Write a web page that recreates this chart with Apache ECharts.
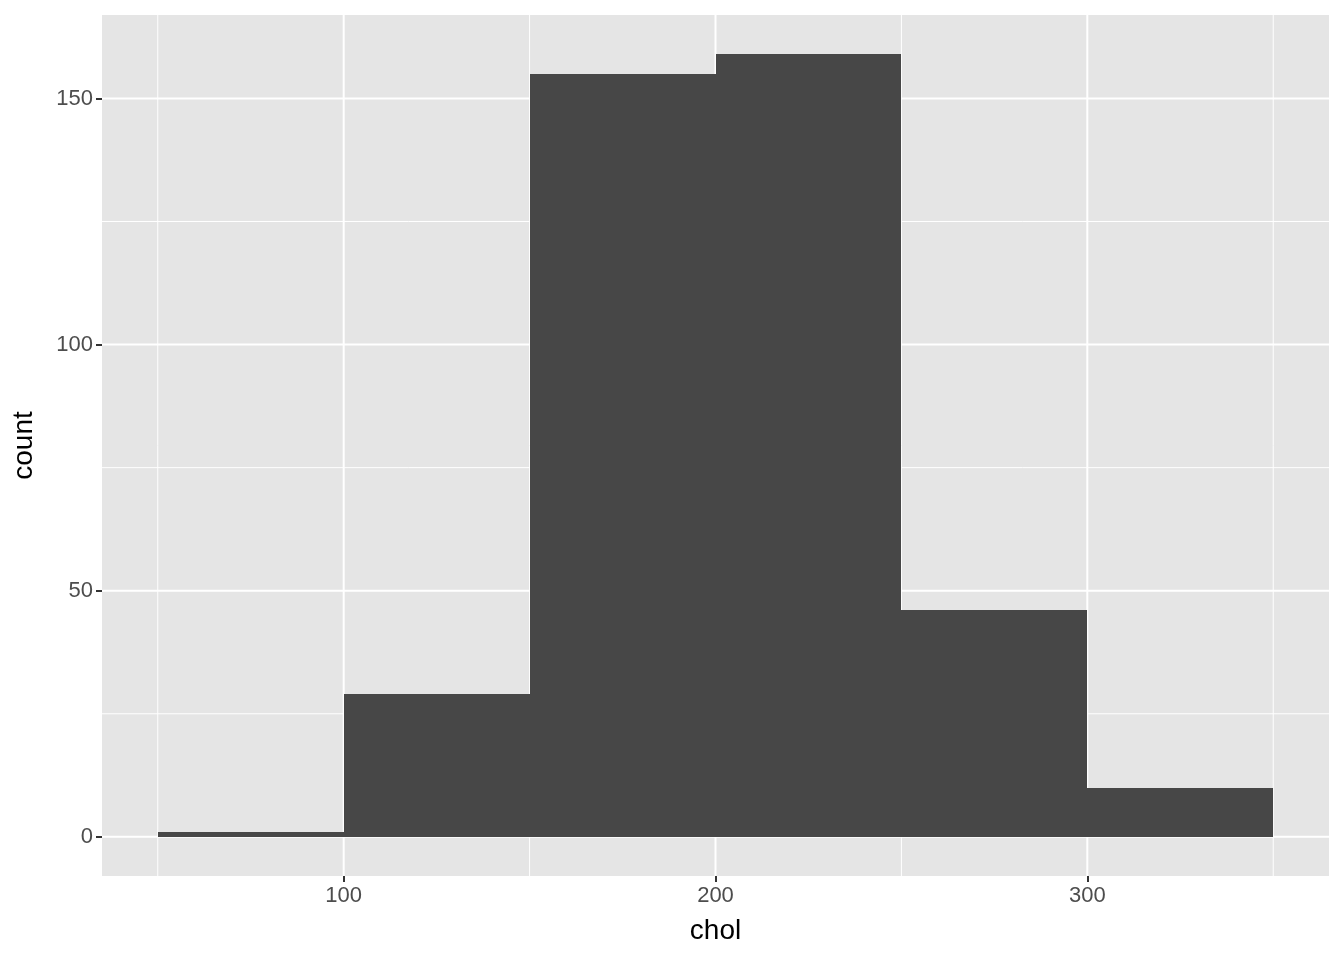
<!DOCTYPE html>
<html>
<head>
<meta charset="utf-8">
<script src="https://cdn.jsdelivr.net/npm/echarts@6/dist/echarts.min.js"></script>
<style>html,body{margin:0;padding:0;background:#fff;}#c{width:1344px;height:960px;}</style>
</head>
<body>
<div id="c"></div>
<script>
// Histogram bins of chol (bin width 50)
const binStarts = [50, 100, 150, 200, 250, 300];
const binEnds = [100, 150, 200, 250, 300, 350];
const counts = [1, 29, 155, 159, 46, 10];
// Axis ticks & grid lines
const xTicks = [100, 200, 300];
const xMinor = [50, 150, 250, 350];
const yTicks = [0, 50, 100, 150];
const yMinor = [25, 75, 125];

const chart = echarts.init(document.getElementById('c'), null, {renderer: 'canvas'});

const gridData = [];
xTicks.forEach(v => gridData.push(['x', v, 2]));
xMinor.forEach(v => gridData.push(['x', v, 1]));
yTicks.forEach(v => gridData.push(['y', v, 2]));
yMinor.forEach(v => gridData.push(['y', v, 1]));

const fontFam = 'Liberation Sans, Arial, sans-serif';

chart.setOption({
  animation: false,
  backgroundColor: '#ffffff',
  grid: {left: 102, right: 15, top: 15, bottom: 84, show: true, backgroundColor: '#E5E5E5', borderWidth: 0},
  xAxis: {
    type: 'value', min: 35, max: 365,
    name: 'chol', nameLocation: 'middle', nameGap: 41,
    nameTextStyle: {fontSize: 28, color: '#000', fontFamily: fontFam},
    axisLine: {show: false, onZero: false},
    splitLine: {show: false},
    axisTick: {show: true, customValues: xTicks, length: 6, lineStyle: {color: '#333', width: 2}},
    axisLabel: {customValues: xTicks, fontSize: 22, color: '#4D4D4D', margin: 9, fontFamily: fontFam}
  },
  yAxis: {
    type: 'value', min: -7.95, max: 166.95,
    name: 'count', nameLocation: 'middle', nameGap: 64, nameRotate: 90,
    nameTextStyle: {fontSize: 28, color: '#000', fontFamily: fontFam},
    axisLine: {show: false, onZero: false},
    splitLine: {show: false},
    axisTick: {show: true, customValues: yTicks, length: 6, lineStyle: {color: '#333', width: 2}},
    axisLabel: {customValues: yTicks, fontSize: 22, color: '#4D4D4D', margin: 9, fontFamily: fontFam}
  },
  series: [
    {
      type: 'custom', z: 1, silent: true,
      data: gridData.map(d => [d[1], d[2], d[0] === 'x' ? 0 : 1]),
      encode: {x: -1, y: -1},
      renderItem: function (params, api) {
        const cs = params.coordSys;
        const v = api.value(0), w = api.value(1), isY = api.value(2) === 1;
        let shape;
        if (!isY) {
          const px = api.coord([v, 0])[0];
          shape = {x1: px, y1: cs.y, x2: px, y2: cs.y + cs.height};
        } else {
          const py = api.coord([100, v])[1];
          shape = {x1: cs.x, y1: py, x2: cs.x + cs.width, y2: py};
        }
        return {type: 'line', shape: shape, style: {stroke: '#ffffff', lineWidth: w}};
      }
    },
    {
      type: 'custom', z: 2, silent: true,
      data: binStarts.map((s, i) => [s, binEnds[i], counts[i]]),
      encode: {x: [0, 1], y: 2},
      renderItem: function (params, api) {
        const p0 = api.coord([api.value(0), api.value(2)]);
        const p1 = api.coord([api.value(1), 0]);
        const x0 = Math.round(p0[0]), x1 = Math.round(p1[0]);
        const y0 = Math.round(p0[1]), y1 = Math.round(p1[1]);
        return {type: 'rect', shape: {x: x0, y: y0, width: x1 - x0, height: y1 - y0}, style: {fill: '#474747'}};
      }
    }
  ]
});
</script>
</body>
</html>
